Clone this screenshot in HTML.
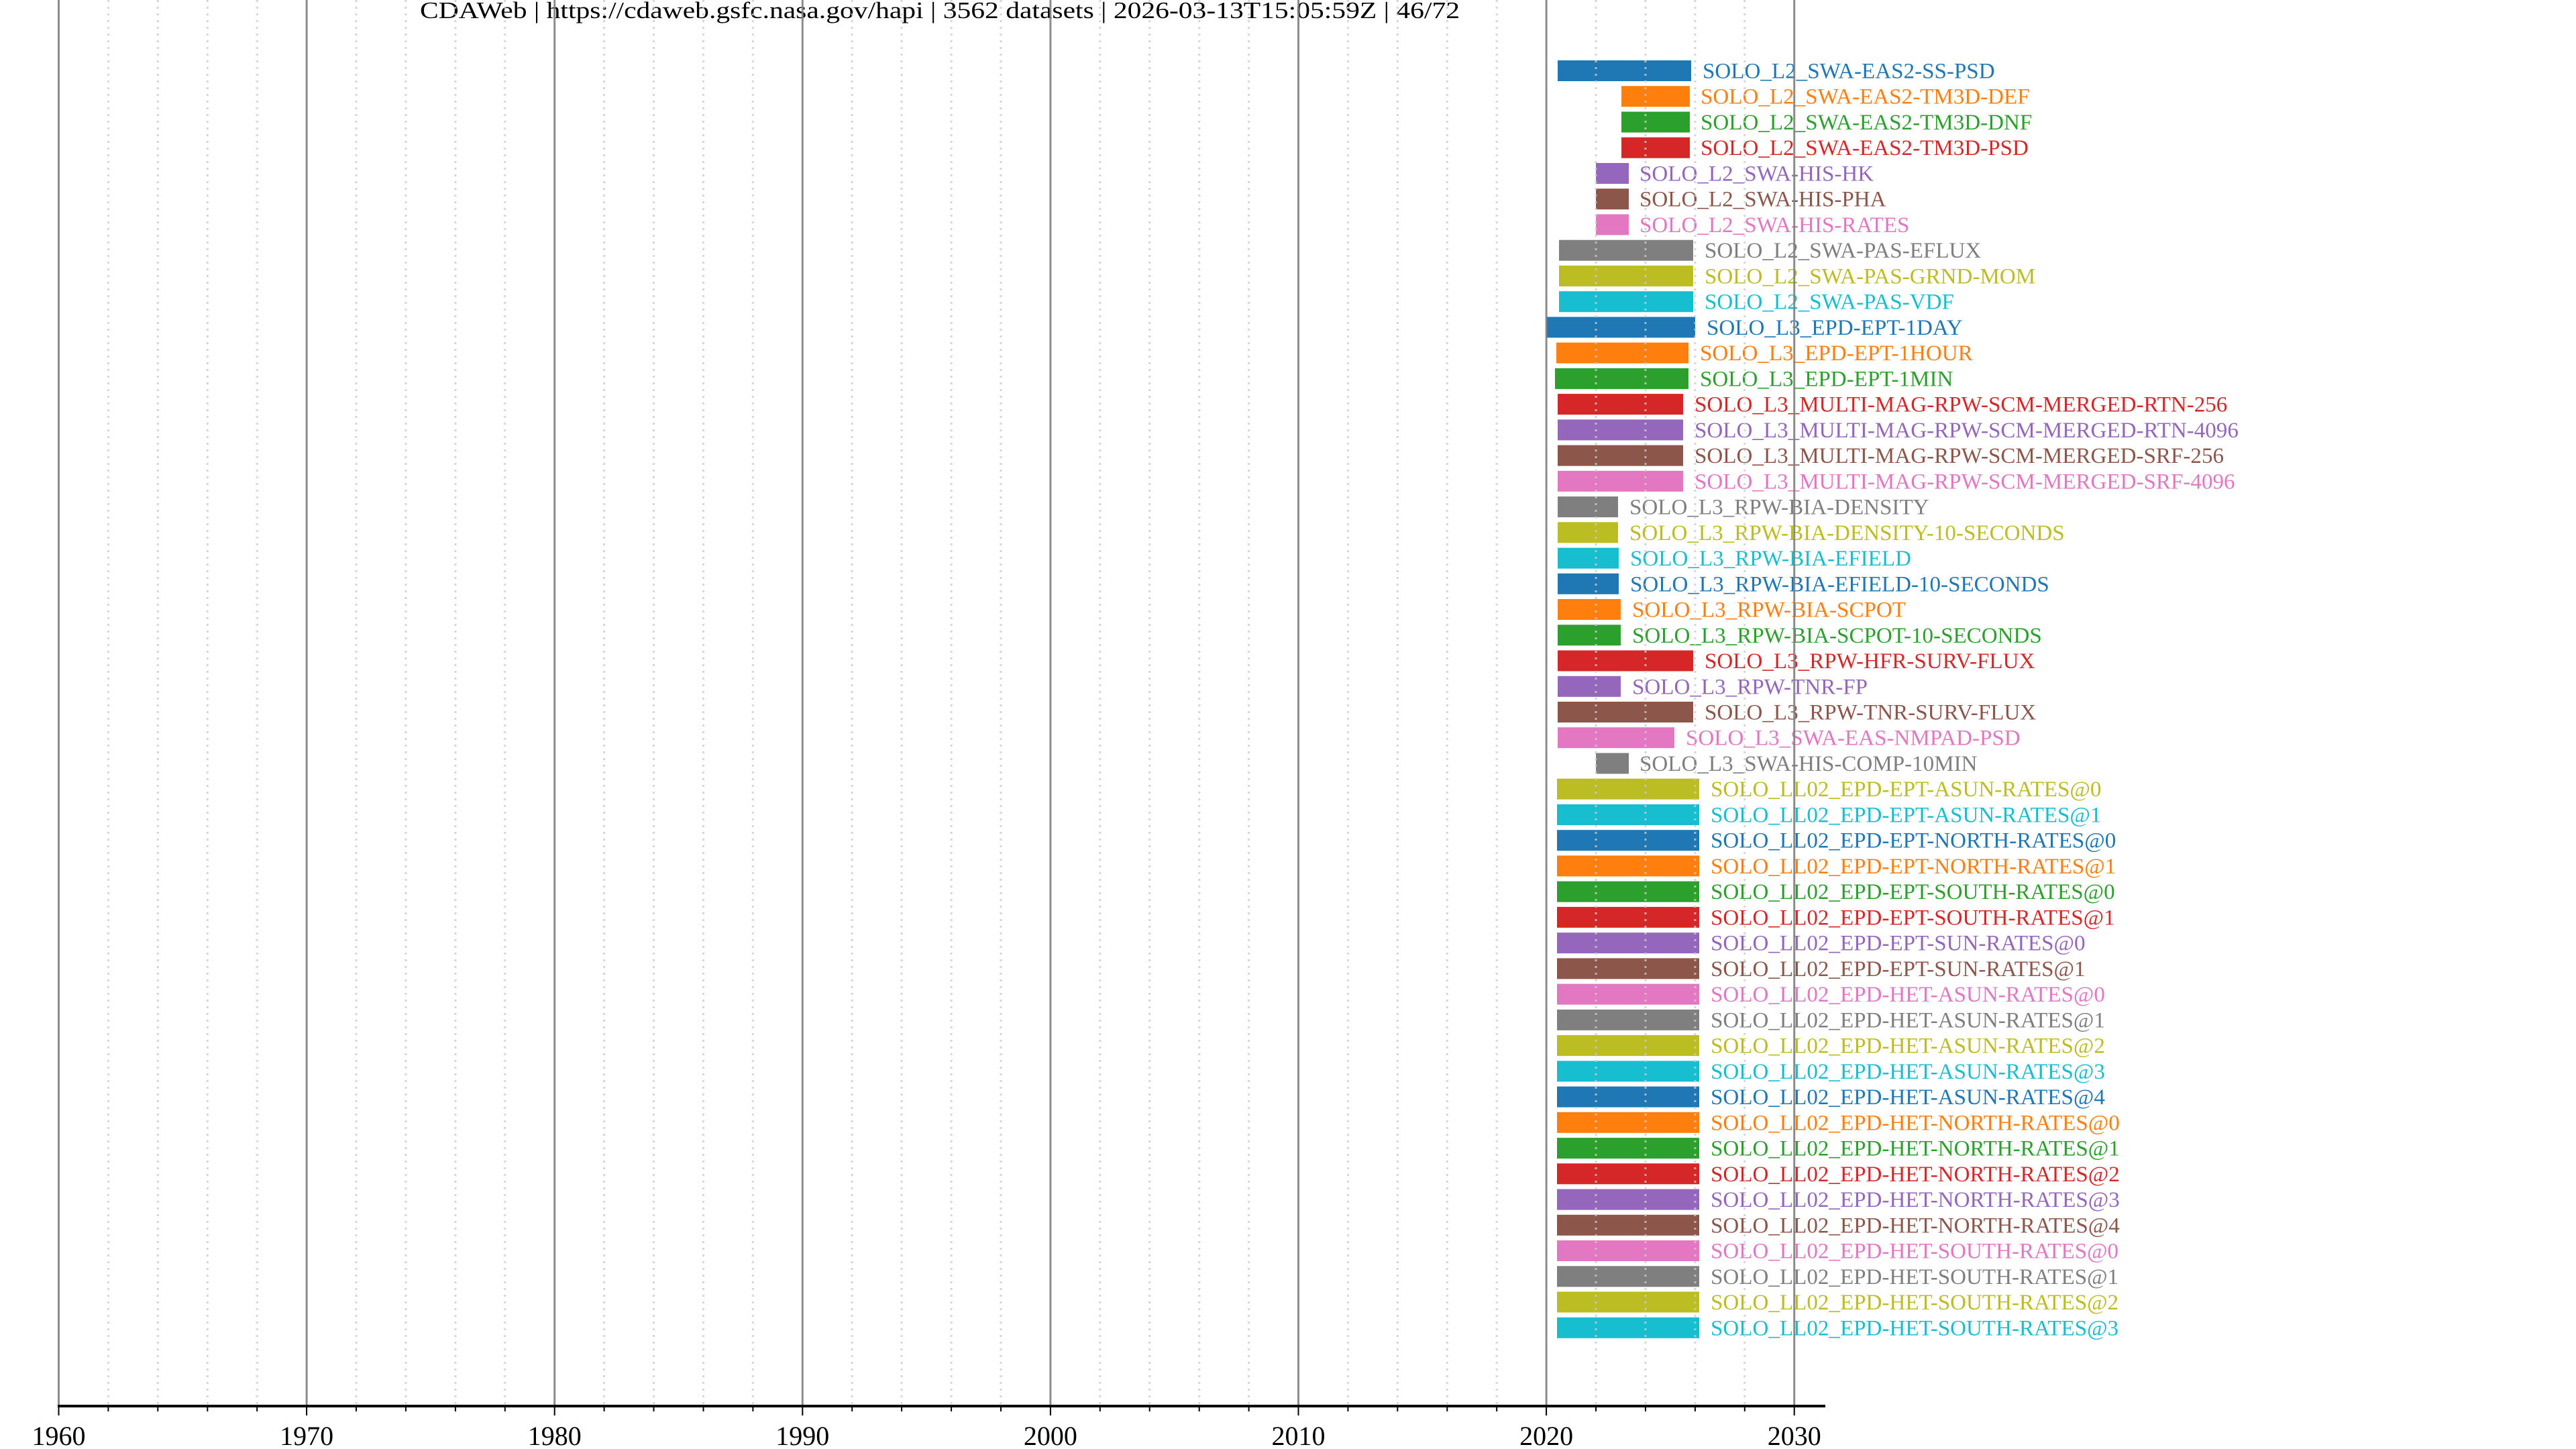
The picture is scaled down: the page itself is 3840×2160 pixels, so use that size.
<!DOCTYPE html>
<html><head><meta charset="utf-8"><style>html,body{margin:0;padding:0;background:#fff}svg{display:block}</style></head>
<body>
<svg width="3840" height="2160" viewBox="0 0 3840 2160" xmlns="http://www.w3.org/2000/svg" font-family="Liberation Serif, serif">
<rect width="3840" height="2160" fill="#fff"/>
<text x="1401" y="27" font-size="35" text-anchor="middle" textLength="1550" lengthAdjust="spacingAndGlyphs">CDAWeb | https://cdaweb.gsfc.nasa.gov/hapi | 3562 datasets | 2026-03-13T15:05:59Z | 46/72</text>
<g font-size="33.1" transform="translate(0,-5)">
<rect x="2322" y="95" width="199" height="31" fill="#1f77b4"/><text x="2538" y="121.5" fill="#1f77b4">SOLO_L2_SWA-EAS2-SS-PSD</text>
<rect x="2417" y="133.2" width="102" height="31" fill="#ff7f0e"/><text x="2535" y="159.7" fill="#ff7f0e">SOLO_L2_SWA-EAS2-TM3D-DEF</text>
<rect x="2417" y="171.5" width="102" height="31" fill="#2ca02c"/><text x="2535" y="198" fill="#2ca02c">SOLO_L2_SWA-EAS2-TM3D-DNF</text>
<rect x="2417" y="209.7" width="102" height="31" fill="#d62728"/><text x="2535" y="236.2" fill="#d62728">SOLO_L2_SWA-EAS2-TM3D-PSD</text>
<rect x="2379" y="248" width="49" height="31" fill="#9467bd"/><text x="2444" y="274.5" fill="#9467bd">SOLO_L2_SWA-HIS-HK</text>
<rect x="2379" y="286.2" width="49" height="31" fill="#8c564b"/><text x="2444" y="312.7" fill="#8c564b">SOLO_L2_SWA-HIS-PHA</text>
<rect x="2379" y="324.4" width="49" height="31" fill="#e377c2"/><text x="2444" y="350.9" fill="#e377c2">SOLO_L2_SWA-HIS-RATES</text>
<rect x="2324" y="362.7" width="200" height="31" fill="#7f7f7f"/><text x="2541" y="389.2" fill="#7f7f7f">SOLO_L2_SWA-PAS-EFLUX</text>
<rect x="2324" y="400.9" width="200" height="31" fill="#bcbd22"/><text x="2541" y="427.4" fill="#bcbd22">SOLO_L2_SWA-PAS-GRND-MOM</text>
<rect x="2324" y="439.2" width="200" height="31" fill="#17becf"/><text x="2541" y="465.7" fill="#17becf">SOLO_L2_SWA-PAS-VDF</text>
<rect x="2305" y="477.4" width="222" height="31" fill="#1f77b4"/><text x="2544" y="503.9" fill="#1f77b4">SOLO_L3_EPD-EPT-1DAY</text>
<rect x="2320" y="515.6" width="197" height="31" fill="#ff7f0e"/><text x="2534" y="542.1" fill="#ff7f0e">SOLO_L3_EPD-EPT-1HOUR</text>
<rect x="2318" y="553.9" width="199" height="31" fill="#2ca02c"/><text x="2534" y="580.4" fill="#2ca02c">SOLO_L3_EPD-EPT-1MIN</text>
<rect x="2322" y="592.1" width="187" height="31" fill="#d62728"/><text x="2526" y="618.6" fill="#d62728">SOLO_L3_MULTI-MAG-RPW-SCM-MERGED-RTN-256</text>
<rect x="2322" y="630.4" width="187" height="31" fill="#9467bd"/><text x="2526" y="656.9" fill="#9467bd">SOLO_L3_MULTI-MAG-RPW-SCM-MERGED-RTN-4096</text>
<rect x="2322" y="668.6" width="187" height="31" fill="#8c564b"/><text x="2526" y="695.1" fill="#8c564b">SOLO_L3_MULTI-MAG-RPW-SCM-MERGED-SRF-256</text>
<rect x="2322" y="706.8" width="187" height="31" fill="#e377c2"/><text x="2526" y="733.3" fill="#e377c2">SOLO_L3_MULTI-MAG-RPW-SCM-MERGED-SRF-4096</text>
<rect x="2322" y="745.1" width="90" height="31" fill="#7f7f7f"/><text x="2429" y="771.6" fill="#7f7f7f">SOLO_L3_RPW-BIA-DENSITY</text>
<rect x="2322" y="783.3" width="90" height="31" fill="#bcbd22"/><text x="2429" y="809.8" fill="#bcbd22">SOLO_L3_RPW-BIA-DENSITY-10-SECONDS</text>
<rect x="2322" y="821.6" width="91" height="31" fill="#17becf"/><text x="2430" y="848.1" fill="#17becf">SOLO_L3_RPW-BIA-EFIELD</text>
<rect x="2322" y="859.8" width="91" height="31" fill="#1f77b4"/><text x="2430" y="886.3" fill="#1f77b4">SOLO_L3_RPW-BIA-EFIELD-10-SECONDS</text>
<rect x="2322" y="898" width="94" height="31" fill="#ff7f0e"/><text x="2433" y="924.5" fill="#ff7f0e">SOLO_L3_RPW-BIA-SCPOT</text>
<rect x="2322" y="936.3" width="94" height="31" fill="#2ca02c"/><text x="2433" y="962.8" fill="#2ca02c">SOLO_L3_RPW-BIA-SCPOT-10-SECONDS</text>
<rect x="2322" y="974.5" width="202" height="31" fill="#d62728"/><text x="2541" y="1001" fill="#d62728">SOLO_L3_RPW-HFR-SURV-FLUX</text>
<rect x="2322" y="1012.8" width="94" height="31" fill="#9467bd"/><text x="2433" y="1039.3" fill="#9467bd">SOLO_L3_RPW-TNR-FP</text>
<rect x="2322" y="1051" width="202" height="31" fill="#8c564b"/><text x="2541" y="1077.5" fill="#8c564b">SOLO_L3_RPW-TNR-SURV-FLUX</text>
<rect x="2322" y="1089.2" width="174" height="31" fill="#e377c2"/><text x="2513" y="1115.7" fill="#e377c2">SOLO_L3_SWA-EAS-NMPAD-PSD</text>
<rect x="2379" y="1127.5" width="49" height="31" fill="#7f7f7f"/><text x="2444" y="1154" fill="#7f7f7f">SOLO_L3_SWA-HIS-COMP-10MIN</text>
<rect x="2321" y="1165.7" width="212" height="31" fill="#bcbd22"/><text x="2550" y="1192.2" fill="#bcbd22">SOLO_LL02_EPD-EPT-ASUN-RATES@0</text>
<rect x="2321" y="1204" width="212" height="31" fill="#17becf"/><text x="2550" y="1230.5" fill="#17becf">SOLO_LL02_EPD-EPT-ASUN-RATES@1</text>
<rect x="2321" y="1242.2" width="212" height="31" fill="#1f77b4"/><text x="2550" y="1268.7" fill="#1f77b4">SOLO_LL02_EPD-EPT-NORTH-RATES@0</text>
<rect x="2321" y="1280.4" width="212" height="31" fill="#ff7f0e"/><text x="2550" y="1306.9" fill="#ff7f0e">SOLO_LL02_EPD-EPT-NORTH-RATES@1</text>
<rect x="2321" y="1318.7" width="212" height="31" fill="#2ca02c"/><text x="2550" y="1345.2" fill="#2ca02c">SOLO_LL02_EPD-EPT-SOUTH-RATES@0</text>
<rect x="2321" y="1356.9" width="212" height="31" fill="#d62728"/><text x="2550" y="1383.4" fill="#d62728">SOLO_LL02_EPD-EPT-SOUTH-RATES@1</text>
<rect x="2321" y="1395.2" width="212" height="31" fill="#9467bd"/><text x="2550" y="1421.7" fill="#9467bd">SOLO_LL02_EPD-EPT-SUN-RATES@0</text>
<rect x="2321" y="1433.4" width="212" height="31" fill="#8c564b"/><text x="2550" y="1459.9" fill="#8c564b">SOLO_LL02_EPD-EPT-SUN-RATES@1</text>
<rect x="2321" y="1471.6" width="212" height="31" fill="#e377c2"/><text x="2550" y="1498.1" fill="#e377c2">SOLO_LL02_EPD-HET-ASUN-RATES@0</text>
<rect x="2321" y="1509.9" width="212" height="31" fill="#7f7f7f"/><text x="2550" y="1536.4" fill="#7f7f7f">SOLO_LL02_EPD-HET-ASUN-RATES@1</text>
<rect x="2321" y="1548.1" width="212" height="31" fill="#bcbd22"/><text x="2550" y="1574.6" fill="#bcbd22">SOLO_LL02_EPD-HET-ASUN-RATES@2</text>
<rect x="2321" y="1586.4" width="212" height="31" fill="#17becf"/><text x="2550" y="1612.9" fill="#17becf">SOLO_LL02_EPD-HET-ASUN-RATES@3</text>
<rect x="2321" y="1624.6" width="212" height="31" fill="#1f77b4"/><text x="2550" y="1651.1" fill="#1f77b4">SOLO_LL02_EPD-HET-ASUN-RATES@4</text>
<rect x="2321" y="1662.8" width="212" height="31" fill="#ff7f0e"/><text x="2550" y="1689.3" fill="#ff7f0e">SOLO_LL02_EPD-HET-NORTH-RATES@0</text>
<rect x="2321" y="1701.1" width="212" height="31" fill="#2ca02c"/><text x="2550" y="1727.6" fill="#2ca02c">SOLO_LL02_EPD-HET-NORTH-RATES@1</text>
<rect x="2321" y="1739.3" width="212" height="31" fill="#d62728"/><text x="2550" y="1765.8" fill="#d62728">SOLO_LL02_EPD-HET-NORTH-RATES@2</text>
<rect x="2321" y="1777.6" width="212" height="31" fill="#9467bd"/><text x="2550" y="1804.1" fill="#9467bd">SOLO_LL02_EPD-HET-NORTH-RATES@3</text>
<rect x="2321" y="1815.8" width="212" height="31" fill="#8c564b"/><text x="2550" y="1842.3" fill="#8c564b">SOLO_LL02_EPD-HET-NORTH-RATES@4</text>
<rect x="2321" y="1854" width="212" height="31" fill="#e377c2"/><text x="2550" y="1880.5" fill="#e377c2">SOLO_LL02_EPD-HET-SOUTH-RATES@0</text>
<rect x="2321" y="1892.3" width="212" height="31" fill="#7f7f7f"/><text x="2550" y="1918.8" fill="#7f7f7f">SOLO_LL02_EPD-HET-SOUTH-RATES@1</text>
<rect x="2321" y="1930.5" width="212" height="31" fill="#bcbd22"/><text x="2550" y="1957" fill="#bcbd22">SOLO_LL02_EPD-HET-SOUTH-RATES@2</text>
<rect x="2321" y="1968.8" width="212" height="31" fill="#17becf"/><text x="2550" y="1995.3" fill="#17becf">SOLO_LL02_EPD-HET-SOUTH-RATES@3</text>
</g>
<g stroke="#cccccc" stroke-width="3" stroke-dasharray="3 7" opacity="0.8">
<path d="M161.4 0V2095M235.3 0V2095M309.3 0V2095M383.2 0V2095M531 0V2095M604.9 0V2095M678.9 0V2095M752.8 0V2095M900.6 0V2095M974.5 0V2095M1048.5 0V2095M1122.4 0V2095M1270.2 0V2095M1344.1 0V2095M1418.1 0V2095M1492 0V2095M1639.8 0V2095M1713.7 0V2095M1787.7 0V2095M1861.6 0V2095M2009.4 0V2095M2083.3 0V2095M2157.3 0V2095M2231.2 0V2095M2379 0V2095M2452.9 0V2095M2526.9 0V2095M2600.8 0V2095"/>
</g>
<g stroke="#808080" stroke-width="3" opacity="0.9">
<path d="M87.5 0V2095M457.1 0V2095M826.7 0V2095M1196.3 0V2095M1565.9 0V2095M1935.5 0V2095M2305.1 0V2095M2674.7 0V2095"/>
</g>
<line x1="86" y1="2096" x2="2721" y2="2096" stroke="#000" stroke-width="4"/>
<g stroke="#000" stroke-width="2">
<path d="M87.5 2096V2110M457.1 2096V2110M826.7 2096V2110M1196.3 2096V2110M1565.9 2096V2110M1935.5 2096V2110M2305.1 2096V2110M2674.7 2096V2110"/>
<path d="M161.4 2096V2104M235.3 2096V2104M309.3 2096V2104M383.2 2096V2104M531 2096V2104M604.9 2096V2104M678.9 2096V2104M752.8 2096V2104M900.6 2096V2104M974.5 2096V2104M1048.5 2096V2104M1122.4 2096V2104M1270.2 2096V2104M1344.1 2096V2104M1418.1 2096V2104M1492 2096V2104M1639.8 2096V2104M1713.7 2096V2104M1787.7 2096V2104M1861.6 2096V2104M2009.4 2096V2104M2083.3 2096V2104M2157.3 2096V2104M2231.2 2096V2104M2379 2096V2104M2452.9 2096V2104M2526.9 2096V2104M2600.8 2096V2104"/>
</g>
<g font-size="40" text-anchor="middle" fill="#000">
<text x="87.5" y="2154">1960</text><text x="457.1" y="2154">1970</text><text x="826.7" y="2154">1980</text><text x="1196.3" y="2154">1990</text><text x="1565.9" y="2154">2000</text><text x="1935.5" y="2154">2010</text><text x="2305.1" y="2154">2020</text><text x="2674.7" y="2154">2030</text>
</g>
</svg>
</body></html>
